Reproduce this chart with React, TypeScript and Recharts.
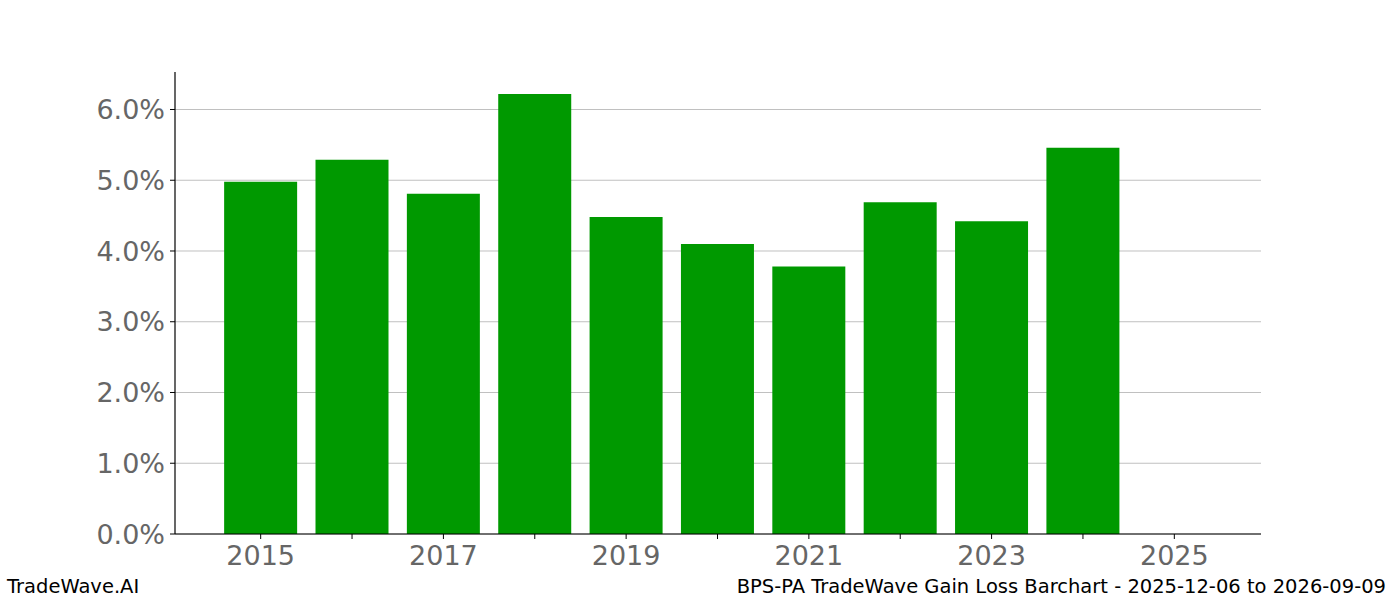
import { BarChart, Bar, XAxis, YAxis, CartesianGrid } from "recharts";

const years = [2015, 2016, 2017, 2018, 2019, 2020, 2021, 2022, 2023, 2024, 2025];
const gains: (number | null)[] = [4.98, 5.29, 4.81, 6.22, 4.48, 4.1, 3.78, 4.69, 4.42, 5.46, null];
const yTicks = [0, 1, 2, 3, 4, 5, 6];
const Y_MAX = 6.53;

const FONT = "'DejaVu Sans', sans-serif";

const data = years.map((year, i) => ({ year, gain: gains[i] }));

const App = () => {
  return (
    <div style={{ position: "absolute", left: 0, top: 0, width: 1400, height: 600, background: "#fff" }}>
      <BarChart
        width={1400}
        height={600}
        data={data}
        barCategoryGap="10%"
        margin={{ top: 72, right: 139, left: 95, bottom: 36 }}
      >
        <CartesianGrid
          vertical={false}
          stroke="#c0c0c0"
          strokeWidth={1}
          horizontalCoordinatesGenerator={({ offset }: any) =>
            yTicks.map((t) => offset.top + offset.height * (1 - t / Y_MAX))
          }
        />
        <XAxis
          dataKey="year"
          padding={{ left: 40, right: 41 }}
          height={30}
          axisLine={{ stroke: "#000", strokeWidth: 1.2 }}
          tickLine={{ stroke: "#000" }}
          tickSize={5}
          tickMargin={7}
          interval={0}
          tickFormatter={(v) => (Number(v) % 2 === 1 ? String(v) : "")}
          tick={{ fill: "#666666", fontSize: 27, fontFamily: FONT }}
        />
        <YAxis
          width={80}
          domain={[0, Y_MAX]}
          ticks={yTicks}
          allowDataOverflow
          axisLine={{ stroke: "#000", strokeWidth: 1.2 }}
          tickLine={{ stroke: "#000" }}
          tickSize={5}
          tickMargin={5}
          tickFormatter={(v) => `${Number(v).toFixed(1)}%`}
          tick={{ fill: "#666666", fontSize: 27, fontFamily: FONT }}
        />
        <Bar dataKey="gain" fill="#009900" isAnimationActive={false} />
      </BarChart>
      <svg
        width={1400}
        height={600}
        style={{ position: "absolute", left: 0, top: 0, pointerEvents: "none" }}
      >
        <text x={7} y={593} fontSize={19.5} fontFamily={FONT} fill="#000">
          TradeWave.AI
        </text>
        <text x={1386} y={593} fontSize={19.5} fontFamily={FONT} fill="#000" textAnchor="end">
          BPS-PA TradeWave Gain Loss Barchart - 2025-12-06 to 2026-09-09
        </text>
      </svg>
    </div>
  );
};

export default App;
